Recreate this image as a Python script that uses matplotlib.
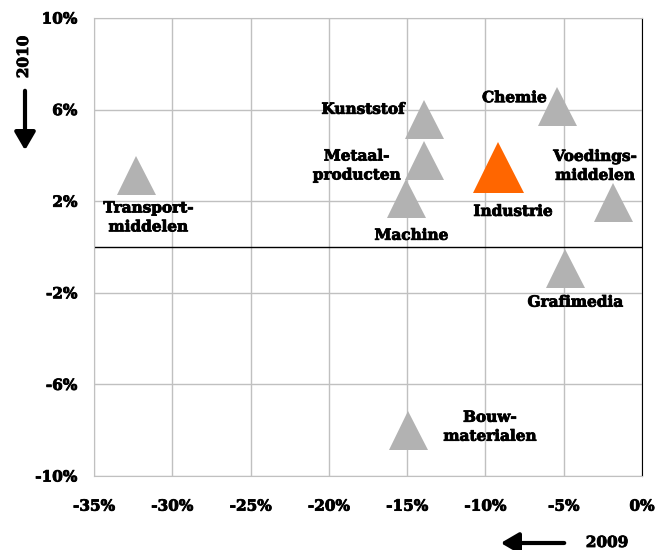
import matplotlib
matplotlib.use("Agg")
import matplotlib.pyplot as plt
import matplotlib.patheffects as pe
from matplotlib.ticker import FuncFormatter

# sector growth, 2009 (x) versus 2010 (y), in %
sectors = ["Transport-\nmiddelen", "Kunststof", "Metaal-\nproducten", "Machine",
           "Chemie", "Industrie", "Voedings-\nmiddelen", "Grafimedia", "Bouw-\nmaterialen"]
growth_2009 = [-32.3, -13.95, -13.95, -15.05, -5.4, -9.2, -1.85, -4.9, -14.95]
growth_2010 = [3.15, 5.6, 3.8, 2.15, 6.15, 3.5, 1.95, -0.9, -8.0]
highlight = "Industrie"

x_ticks = [-35, -30, -25, -20, -15, -10, -5, 0]
y_ticks = [-10, -6, -2, 2, 6, 10]

# label placement relative to the marker, in pixels (dx right, dy down)
label_offsets = {
    "Transport-\nmiddelen": (12, 43, "center"),
    "Kunststof": (-19, -9, "right"),
    "Metaal-\nproducten": (-67, 6, "center"),
    "Machine": (5, 38, "center"),
    "Chemie": (-43, -8, "center"),
    "Industrie": (15, 45, "center"),
    "Voedings-\nmiddelen": (-18, -36, "center"),
    "Grafimedia": (10, 35, "center"),
    "Bouw-\nmaterialen": (82, -3, "center"),
}

GREY = "#b2b2b2"
ORANGE = "#ff6600"
GRID = "#c0c0c0"
px = 72.0 / 100  # points per pixel at dpi 100
heavy = [pe.withStroke(linewidth=0.6, foreground="black")]

fig = plt.figure(figsize=(6.68, 5.5), dpi=100)
ax = fig.add_axes([94 / 668, 74 / 550, 548 / 668, 458 / 550])

for name, x, y in zip(sectors, growth_2009, growth_2010):
    big = name == highlight
    ax.plot(x, y, marker="^", linestyle="none",
            markersize=(51 if big else 39) * px,
            color=ORANGE if big else GREY, markeredgewidth=0, zorder=3)
    dx, dy, ha = label_offsets[name]
    ax.annotate(name, (x, y), xytext=(dx * px, -dy * px), textcoords="offset points",
                ha=ha, va="center", multialignment="center",
                fontsize=11, fontweight="bold", family="DejaVu Serif",
                linespacing=1.45, zorder=4, path_effects=heavy)

ax.set_xlim(-35, 0)
ax.set_ylim(-10, 10)
ax.set_xticks(x_ticks)
ax.set_yticks(y_ticks)
ax.xaxis.set_major_formatter(FuncFormatter(lambda v, p: "%d%%" % v))
ax.yaxis.set_major_formatter(FuncFormatter(lambda v, p: "%d%%" % v))
ax.grid(True, color=GRID, linewidth=1)
ax.set_axisbelow(True)
ax.axhline(0, color="black", linewidth=1, zorder=2)
ax.tick_params(length=0, pad=12)
ax.tick_params(axis="x", pad=17)
for lbl in ax.get_xticklabels() + ax.get_yticklabels():
    lbl.set_fontweight("bold")
    lbl.set_fontsize(11)
    lbl.set_family("DejaVu Serif")
    lbl.set_path_effects(heavy)
for side in ["top", "left", "bottom"]:
    ax.spines[side].set_color(GRID)
ax.spines["right"].set_color("black")

# axis year labels with arrows
fig.text(24 / 668, 1 - 57 / 550, "2010", rotation=90, ha="center", va="center",
         fontsize=11, fontweight="bold", family="DejaVu Serif", path_effects=heavy)
fig.patches.append(matplotlib.patches.FancyArrowPatch(
    (25 / 668, 1 - 88 / 550), (25 / 668, 1 - 153 / 550), transform=fig.transFigure,
    arrowstyle="-|>,head_length=0.6,head_width=0.35", mutation_scale=18,
    linewidth=3, color="black"))
fig.text(607 / 668, 7 / 550, "2009", ha="center", va="center",
         fontsize=11, fontweight="bold", family="DejaVu Serif", path_effects=heavy)
fig.patches.append(matplotlib.patches.FancyArrowPatch(
    (567 / 668, 7 / 550), (498 / 668, 7 / 550), transform=fig.transFigure,
    arrowstyle="-|>,head_length=0.6,head_width=0.35", mutation_scale=18,
    linewidth=3, color="black"))

fig.savefig("out.png", dpi=100)
